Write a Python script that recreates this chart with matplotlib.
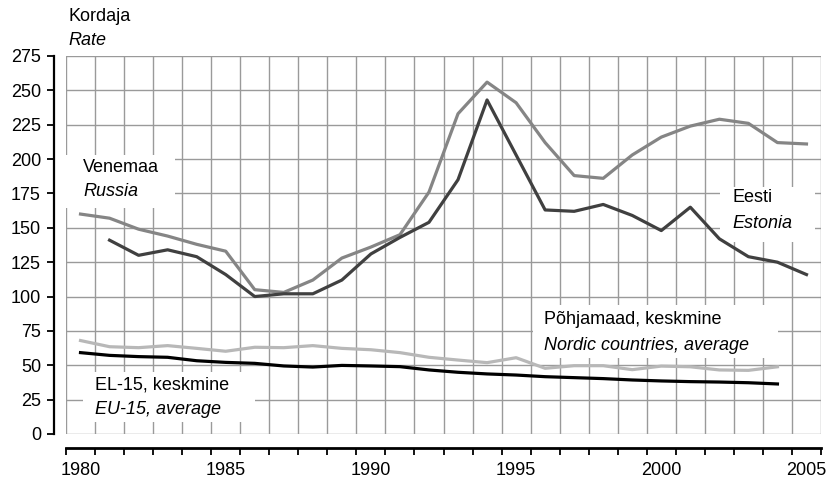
import matplotlib.pyplot as plt
from matplotlib.patches import Rectangle
import numpy as np

plt.rcParams['font.family'] = ['Liberation Sans', 'DejaVu Sans']

years = list(range(1980, 2006))

russia = [160, 157, 149, 144, 138, 133, 105, 103, 112, 128, 136, 145, 176, 233,
          256, 241, 212, 188, 186, 203, 216, 224, 229, 226, 212, 211]
estonia_years = list(range(1981, 2006))
estonia = [141, 130, 134, 129, 116, 100, 102, 102, 112, 131, 143, 154, 185,
           243, 203, 163, 162, 167, 159, 148, 165, 142, 129, 125, 116]
nordic_years = list(range(1980, 2005))
nordic = [68, 63.5, 62.8, 64.3, 62.3, 60.2, 63.1, 62.8, 64.3, 62.3, 61.3, 59.2,
          55.8, 53.8, 51.9, 55.5, 47.8, 49.7, 49.7, 46.8, 49.4, 48.9, 46.6, 46.3, 48.9]
eu15_years = list(range(1980, 2005))
eu15 = [59.2, 57.2, 56.3, 55.8, 53.3, 52.1, 51.4, 49.5, 48.7, 49.9, 49.5, 49.0,
        46.6, 44.9, 43.7, 42.9, 41.7, 41.0, 40.3, 39.3, 38.6, 38.1, 37.8, 37.3, 36.4]

W, H = 831, 480
fig = plt.figure(figsize=(W / 100, H / 100), dpi=100)
L, R, T, B = 66, 821, 56, 434
ax = fig.add_axes([L / W, 1 - B / H, (R - L) / W, (B - T) / H])


def px(x, y):
    # pixel position -> axes fraction
    return (x - L) / (R - L), (B - y) / (B - T)


ax.plot(years, russia, color='#858585', lw=2.3, zorder=4)
ax.plot(estonia_years, estonia, color='#404040', lw=2.3, zorder=4)
ax.plot(nordic_years, nordic, color='#b8b8b8', lw=2.3, zorder=4)
ax.plot(eu15_years, eu15, color='#000000', lw=2.3, zorder=4)

ax.set_xlim(1979.5, 2005.5)
ax.set_ylim(0, 275)

ax.set_xticks(np.arange(1979.5, 2006, 1))
ax.set_xticklabels([])
ax.set_xticks(range(1980, 2006, 5), minor=True)
ax.set_xticklabels([str(y) for y in range(1980, 2006, 5)], minor=True)
ax.tick_params(axis='x', which='major', length=5, width=1.3, color='black', direction='out')
ax.tick_params(axis='x', which='minor', length=0, pad=10, labelsize=13)
ax.set_yticks(range(0, 276, 25))
ax.tick_params(axis='y', length=5, width=1.3, pad=4, labelsize=13)

ax.grid(True, which='major', color='#9a9a9a', lw=1.0)
ax.set_axisbelow(True)

for s in ['top', 'right']:
    ax.spines[s].set_visible(False)
ax.spines['left'].set_position(('outward', 9))
ax.spines['left'].set_linewidth(1.6)
ax.spines['bottom'].set_position(('outward', 10))
ax.spines['bottom'].set_linewidth(2.0)

# white label boxes
boxes = [(63, 155, 175, 208), (720, 187, 815, 242), (533, 305, 778, 358), (83, 372, 255, 422)]
for x0, y0, x1, y1 in boxes:
    ax0, ay1 = px(x0, y0)
    ax1, ay0 = px(x1, y1)
    ax.add_patch(Rectangle((ax0, ay0), ax1 - ax0, ay1 - ay0, transform=ax.transAxes,
                           facecolor='white', edgecolor='none', zorder=3, clip_on=False))

labels = [
    (83, 167, 'Venemaa', 'normal'), (83, 192, 'Russia', 'italic'),
    (732, 198, 'Eesti', 'normal'), (732, 223, 'Estonia', 'italic'),
    (544, 320, 'Põhjamaad, keskmine', 'normal'), (544, 345, 'Nordic countries, average', 'italic'),
    (95, 385, 'EL-15, keskmine', 'normal'), (95, 409, 'EU-15, average', 'italic'),
    (68, 17, 'Kordaja', 'normal'), (68, 41, 'Rate', 'italic'),
]
for x, y, s, st in labels:
    fx, fy = px(x, y)
    ax.text(fx, fy, s, style=st, fontsize=13, ha='left', va='center',
            transform=ax.transAxes, zorder=3.5, clip_on=False)

fig.savefig('out.png', dpi=100)
